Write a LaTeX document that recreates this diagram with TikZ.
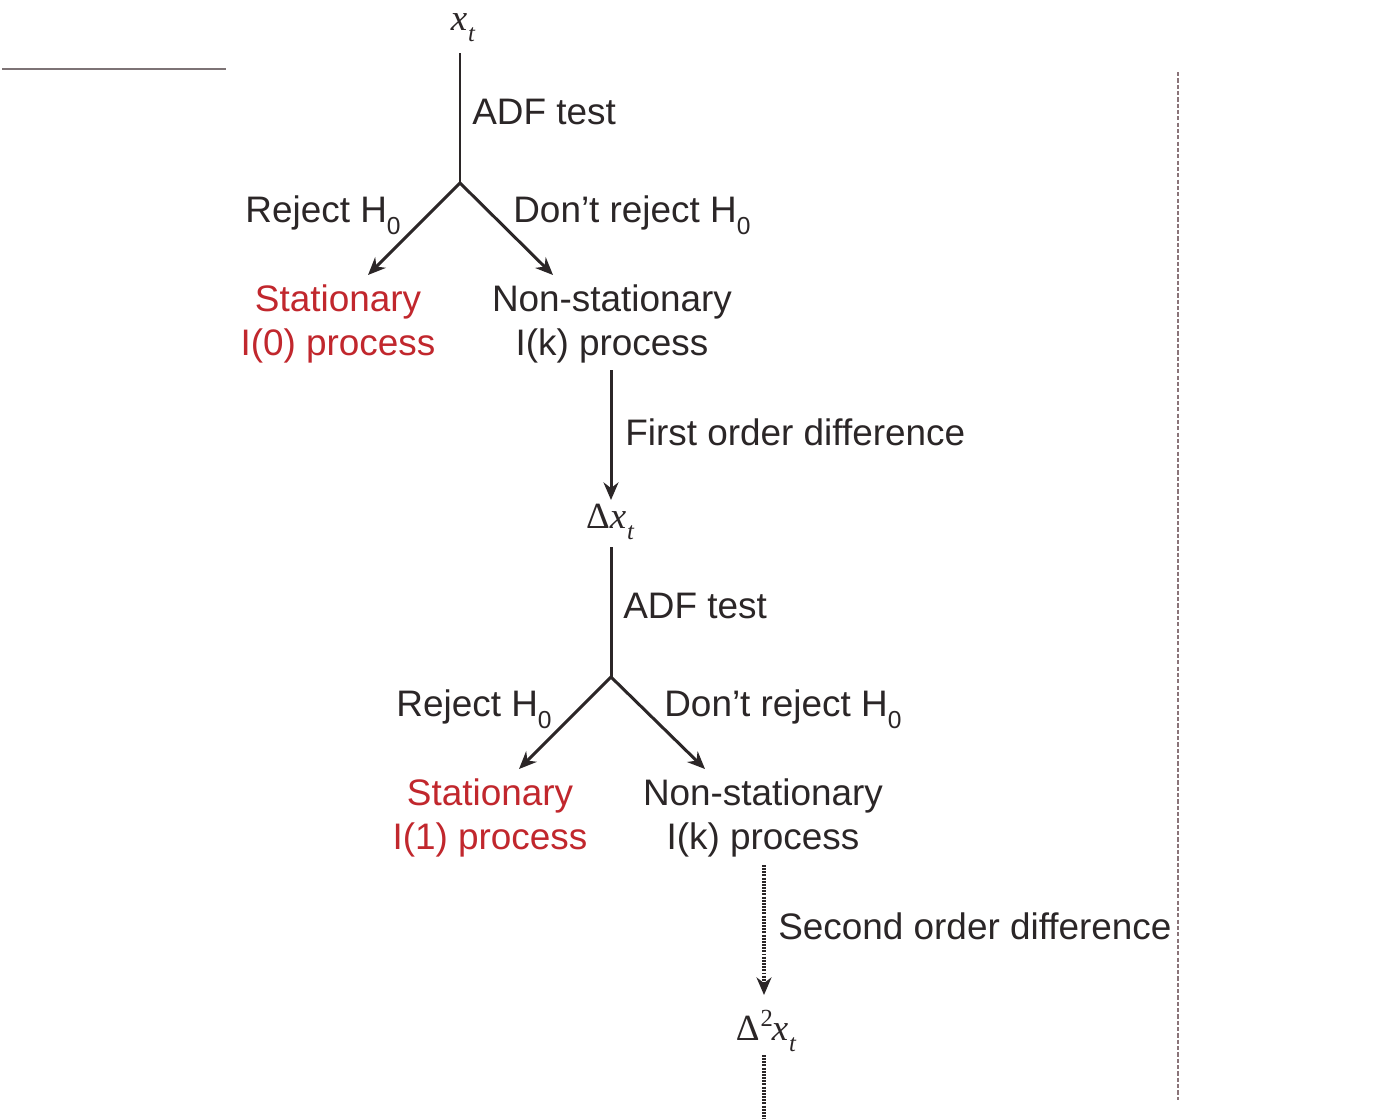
\documentclass[tikz,border=0pt]{standalone}
\usepackage{fontspec}
\setmainfont{Liberation Sans}
\newfontfamily\tms{Liberation Serif}
\usetikzlibrary{arrows.meta}
\definecolor{ink}{HTML}{2B2627}
\definecolor{redt}{HTML}{C1272D}
\definecolor{rulec}{HTML}{7D7375}
\definecolor{vrulec}{HTML}{8A7479}
\newcommand{\myxt}{{\tms\itshape x}\kern0.5pt\raisebox{-0.55ex}{\fontsize{14}{14}\selectfont\tms\itshape t}}
\newcommand{\myHz}{H\raisebox{-0.65ex}{\fontsize{14}{14}\selectfont 0}}
\begin{document}
\begin{tikzpicture}[x=0.02cm,y=-0.02cm,
  font=\fontsize{21}{25}\selectfont,
  lab/.style={text=ink, inner sep=0pt},
  redlab/.style={text=redt, inner sep=0pt, align=center},
  blklab/.style={text=ink, inner sep=0pt, align=center},
  ln/.style={draw=ink, line width=1.7pt},
  arr/.style={ln, -{Stealth[length=10pt,width=8.5pt]}},
  dotln/.style={draw=ink, line width=1.8pt, dash pattern=on 1.1pt off 0.7pt},
  dotarr/.style={dotln, -{Stealth[length=10pt,width=8.5pt]}}]
\useasboundingbox (0,0) rectangle (1400,1119);
\fill[white] (0,0) rectangle (1400,1119);
% frame rules
\coordinate (hl1) at (2,69);
\coordinate (hl2) at (226,69);
\draw[rulec, line width=1.1pt] (hl1) -- (hl2);
\coordinate (vl1) at (1178,72);
\coordinate (vl2) at (1178,1100);
\draw[vrulec, line width=0.8pt, dash pattern=on 2.4pt off 1.2pt] (vl1) -- (vl2);

% level 0
\node[lab] (x0) at (463,28) {\myxt};
\coordinate (b0) at (460,183);
\coordinate (t0a) at (368,275);
\coordinate (t0b) at (553,275);
\coordinate (s0l) at (460,53);
\draw[ln] (s0l) -- (b0);
\node[lab, anchor=west] (adf0) at (472,112) {ADF test};
\node[lab, anchor=base east] (rj0) at (401,222) {Reject \myHz};
\node[lab, anchor=base west] (dr0) at (513,222) {Don’t reject \myHz};
\draw[arr] (b0) -- (t0a);
\draw[arr] (b0) -- (t0b);
\node[redlab] (st0) at (338,324) {Stationary\\I(0) process};
\node[blklab] (ns0) at (612,324) {Non-stationary\\I(k) process};

% first difference
\node[lab] (d1) at (610,522) {{\tms Δ}\myxt};
\coordinate (a1s) at (611,370);
\coordinate (a1e) at (611,500);
\draw[arr] (a1s) -- (a1e);
\node[lab, anchor=west] (fod) at (625,432) {First order difference};

% level 1
\coordinate (s1l) at (611,547);
\coordinate (b1) at (611,677);
\coordinate (t1a) at (519,769);
\coordinate (t1b) at (705,769);
\draw[ln] (s1l) -- (b1);
\node[lab, anchor=west] (adf1) at (623,606) {ADF test};
\node[lab, anchor=base east] (rj1) at (552,716) {Reject \myHz};
\node[lab, anchor=base west] (dr1) at (664,716) {Don’t reject \myHz};
\draw[arr] (b1) -- (t1a);
\draw[arr] (b1) -- (t1b);
\node[redlab] (st1) at (490,818) {Stationary\\I(1) process};
\node[blklab] (ns1) at (763,818) {Non-stationary\\I(k) process};

% second difference
\coordinate (a2s) at (764,865);
\coordinate (a2e) at (764,995);
\draw[dotarr] (a2s) -- (a2e);
\node[lab, anchor=west] (sod) at (778,926) {Second order difference};
\node[lab] (d2) at (766,1031) {{\tms Δ}\kern0.5pt\raisebox{0.75ex}{\fontsize{14}{14}\selectfont\tms 2}\kern-0.5pt\myxt};
\coordinate (a3s) at (764,1055);
\coordinate (a3e) at (764,1119);
\draw[dotln] (a3s) -- (a3e);
\end{tikzpicture}
\end{document}
